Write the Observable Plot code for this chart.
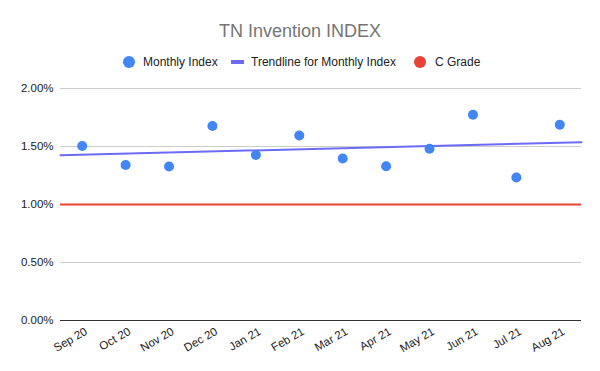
<!DOCTYPE html>
<html>
<head>
<meta charset="utf-8">
<script src="https://cdn.jsdelivr.net/npm/d3@7"></script>
<script src="https://cdn.jsdelivr.net/npm/@observablehq/plot@0.6"></script>
<style>
  html, body { margin: 0; padding: 0; background: #fff; }
  #wrap { position: relative; width: 600px; height: 371px; font-family: "Liberation Sans", Arial, sans-serif; overflow: hidden; }
  #title { position: absolute; top: 19px; left: 0; width: 600px; height: 24px; line-height: 24px; text-align: center; color: #757575; font-size: 18px; }
  .lg { position: absolute; top: 52px; height: 20px; line-height: 20px; font-size: 12px; color: #222; white-space: nowrap; }
  .dot { position: absolute; width: 12px; height: 12px; border-radius: 50%; top: 56px; }
  .sw { position: absolute; width: 13px; height: 4px; top: 60px; }
  #chart { position: absolute; top: 75px; left: 0; }
</style>
</head>
<body>
<div id="wrap">
  <div id="title">TN Invention INDEX</div>
  <div class="dot" style="left:123px;background:#4285F4"></div>
  <div class="lg" style="left:143px">Monthly Index</div>
  <div class="sw" style="left:231px;background:#6b6bf5"></div>
  <div class="lg" style="left:251px">Trendline for Monthly Index</div>
  <div class="dot" style="left:414px;background:#EA4335"></div>
  <div class="lg" style="left:435px">C Grade</div>
  <div id="chart"></div>
</div>
<script>
const months = ["Sep 20","Oct 20","Nov 20","Dec 20","Jan 21","Feb 21","Mar 21","Apr 21","May 21","Jun 21","Jul 21","Aug 21"];
const monthlyIndex = [1.504, 1.341, 1.328, 1.677, 1.427, 1.595, 1.397, 1.330, 1.480, 1.773, 1.233, 1.687];
const cGrade = 1.0;
const yTicks = [0, 0.5, 1.0, 1.5, 2.0];

const data = months.map((m, i) => ({i, month: m, value: monthlyIndex[i]}));

// least-squares trendline over the series
const n = data.length;
const mx = d3.mean(data, d => d.i), my = d3.mean(data, d => d.value);
const slope = d3.sum(data, d => (d.i - mx) * (d.value - my)) / d3.sum(data, d => (d.i - mx) ** 2);
const xDomain = [-0.5, n - 0.5];
const trend = xDomain.map(x => ({x, y: my + slope * (x - mx)}));

const chart = Plot.plot({
  width: 600,
  height: 296,
  marginLeft: 60,
  marginRight: 19,
  marginTop: 13,
  marginBottom: 51,
  style: {fontFamily: "'Liberation Sans', Arial, sans-serif", fontSize: "11.5px", color: "#222", background: "#fff"},
  x: {domain: xDomain, label: null},
  y: {domain: [0, 2], label: null},
  marks: [
    Plot.axisY({ticks: yTicks, tickFormat: d => d.toFixed(2) + "%", tickSize: 0, tickPadding: 7, label: null}),
    Plot.axisX({ticks: d3.range(n), tickFormat: i => months[i], tickSize: 0, tickRotate: -30, tickPadding: 10, dx: 4, label: null}),
    Plot.ruleY(yTicks.filter(t => t > 0), {stroke: "#cccccc", strokeWidth: 1}),
    Plot.ruleY([0], {stroke: "#333333", strokeWidth: 1}),
    Plot.ruleY([cGrade], {stroke: "#EA4335", strokeWidth: 2}),
    Plot.line(trend, {x: "x", y: "y", stroke: "#6b6bf5", strokeWidth: 2}),
    Plot.dot(data, {x: "i", y: "value", r: 5, fill: "#4285F4", stroke: "none"})
  ]
});
document.getElementById("chart").appendChild(chart);
</script>
</body>
</html>
